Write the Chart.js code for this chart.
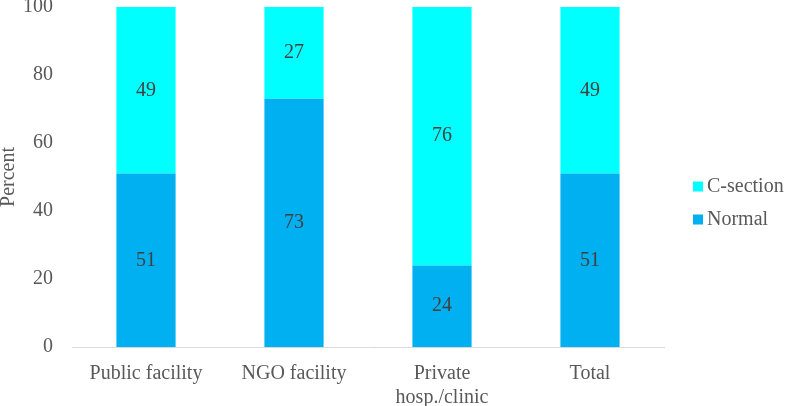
<!DOCTYPE html>
<html>
<head>
<meta charset="utf-8">
<script src="https://cdn.jsdelivr.net/npm/chart.js@4"></script>
<style>
  html, body { margin: 0; padding: 0; background: #fff; }
  #wrap { width: 787px; height: 406px; }
</style>
</head>
<body>
<div id="wrap"><canvas id="chart"></canvas></div>
<script>
const categories = ["Public facility", "NGO facility", ["Private", "hosp./clinic"], "Total"]
const normal = [51, 73, 24, 51]
const cSection = [49, 27, 76, 49]
const yTicks = [0, 20, 40, 60, 80, 100]

const fontFamily = "'Liberation Serif', 'Times New Roman', serif"
const textColor = '#595959'

// number in the middle of each bar segment
const barLabels = {
  id: 'barLabels',
  afterDatasetsDraw(chart) {
    const ctx = chart.ctx
    ctx.save()
    ctx.font = `20px ${fontFamily}`
    ctx.fillStyle = '#404040'
    ctx.textAlign = 'center'
    ctx.textBaseline = 'middle'
    chart.data.datasets.forEach((ds, i) => {
      chart.getDatasetMeta(i).data.forEach((bar, j) => {
        const p = bar.getCenterPoint()
        ctx.fillText(ds.data[j], p.x, p.y)
      })
    })
    ctx.restore()
  }
}

// legend on the right, last series on top like Excel
const sideLegend = {
  id: 'sideLegend',
  afterDraw(chart) {
    const ctx = chart.ctx
    const items = chart.data.datasets.slice().reverse()
    const rowH = 33
    const x = chart.chartArea.right + 29
    let y = chart.height / 2 - (items.length - 1) * rowH / 2
    ctx.save()
    ctx.font = `20px ${fontFamily}`
    ctx.textBaseline = 'middle'
    items.forEach((ds) => {
      ctx.fillStyle = ds.backgroundColor
      ctx.fillRect(x, y - 5, 10, 10)
      ctx.fillStyle = textColor
      ctx.fillText(ds.label, x + 14, y)
      y += rowH
    })
    ctx.restore()
  }
}

new Chart(document.querySelector('#chart').getContext('2d'), {
  type: 'bar',
  data: {
    labels: categories,
    datasets: [
      { label: 'Normal', data: normal, backgroundColor: '#00B0F0', barPercentage: 0.8, categoryPercentage: 0.5 },
      { label: 'C-section', data: cSection, backgroundColor: '#00FFFF', barPercentage: 0.8, categoryPercentage: 0.5 }
    ]
  },
  options: {
    responsive: true,
    maintainAspectRatio: false,
    animation: false,
    layout: { padding: { top: 0, right: 123, bottom: 0, left: -3 } },
    plugins: {
      legend: { display: false },
      tooltip: { enabled: false }
    },
    scales: {
      x: {
        stacked: true,
        grid: { display: false, drawTicks: false },
        border: { color: '#d9d9d9' },
        ticks: { color: textColor, font: { family: fontFamily, size: 20 }, padding: 15 },
        afterFit: (s) => { s.height = 59; s.paddingLeft = 0; s.paddingRight = 0 }
      },
      y: {
        stacked: true,
        min: 0,
        max: 100,
        afterBuildTicks: (axis) => { axis.ticks = yTicks.map(v => ({ value: v })) },
        grid: { display: false, drawTicks: false },
        border: { display: false },
        ticks: { color: textColor, font: { family: fontFamily, size: 20 }, padding: 19 },
        title: { display: true, text: 'Percent', color: textColor, font: { family: fontFamily, size: 20 }, padding: 0 },
        afterFit: (s) => { s.width = 75; s.paddingTop = 7; s.paddingBottom = 0 }
      }
    }
  },
  plugins: [barLabels, sideLegend]
})
</script>
</body>
</html>
